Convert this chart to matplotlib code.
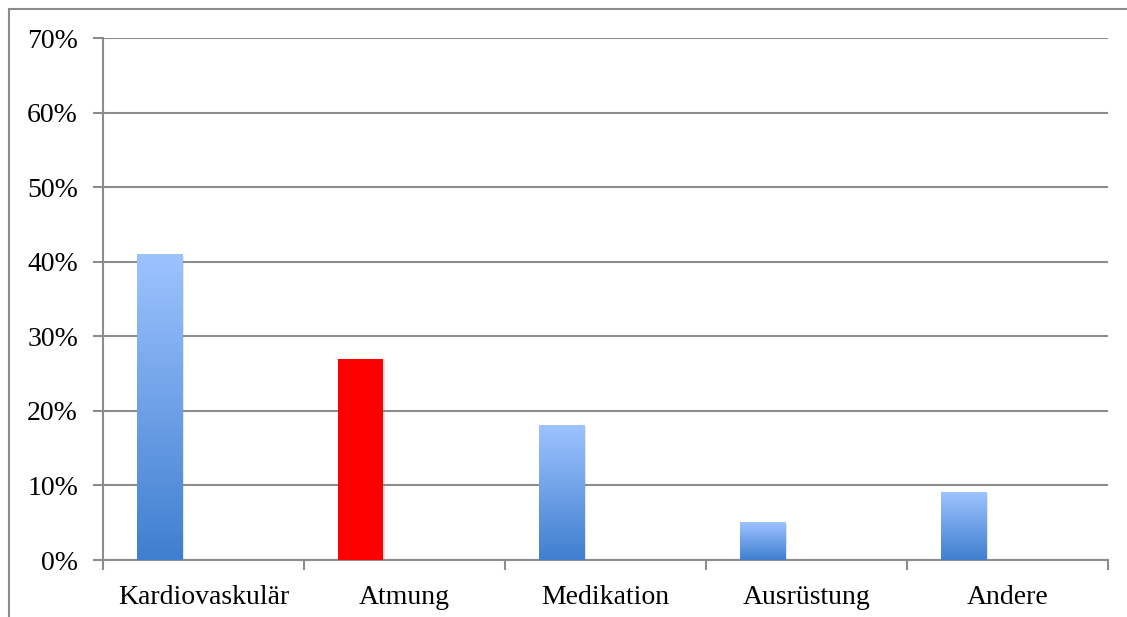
import numpy as np
import matplotlib
matplotlib.use("Agg")
import matplotlib.pyplot as plt
from matplotlib.colors import LinearSegmentedColormap
from matplotlib.lines import Line2D
import matplotlib.patheffects as pe

# chart data
categories = ["Kardiovaskulär", "Atmung", "Medikation", "Ausrüstung", "Andere"]
values = [41, 27, 18, 5, 9]
highlight = [False, True, False, False, False]
y_ticks = [0, 10, 20, 30, 40, 50, 60, 70]

plt.rcParams["font.family"] = ["Liberation Serif", "DejaVu Serif"]

fig = plt.figure(figsize=(11.27, 6.17), dpi=100)
ax = fig.add_axes([103 / 1127, 1 - 560 / 617, (1108 - 103) / 1127, (560 - 38) / 617])

grid_col = "#8c8c8c"
blue_cmap = LinearSegmentedColormap.from_list("bl", ["#3f7fcf", "#9dc3ff"])

x = np.arange(len(categories))
bar_w = 0.224
offset = -0.221
bars = ax.bar(x + offset, values, width=bar_w, color="none", zorder=3,
              edgecolor="none")

for b, hl in zip(bars, highlight):
    x0, w, h = b.get_x(), b.get_width(), b.get_height()
    # soft shadow
    shadow = plt.Rectangle((x0, 0), w, h, facecolor="white", edgecolor="none",
                           zorder=2.5,
                           path_effects=[pe.SimplePatchShadow(offset=(2, -1), alpha=0.2,
                                                             shadow_rgbFace="#808080")])
    ax.add_patch(shadow)
    if hl:
        ax.add_patch(plt.Rectangle((x0, 0), w, h, facecolor="#ff0000",
                                   edgecolor="none", zorder=3))
    else:
        grad = np.linspace(0, 1, 256).reshape(-1, 1)
        ax.imshow(grad, cmap=blue_cmap, origin="lower", aspect="auto",
                  extent=(x0, x0 + w, 0, h), zorder=3)

ax.set_xlim(-0.5, len(categories) - 0.5)
ax.set_ylim(0, 70)
ax.set_yticks(y_ticks)
ax.set_yticklabels([f"{v}%" for v in y_ticks])
ax.set_xticks(x)
ax.set_xticklabels(categories)
ax.set_xticks(np.arange(len(categories) + 1) - 0.5, minor=True)

ax.yaxis.grid(True, color=grid_col, linewidth=1.5, zorder=1)
ax.set_axisbelow(True)
for s in ["top", "right"]:
    ax.spines[s].set_visible(False)
for s in ["left", "bottom"]:
    ax.spines[s].set_color(grid_col)
    ax.spines[s].set_linewidth(1.5)

ax.tick_params(axis="y", length=7, width=1.5, color=grid_col, labelsize=20, pad=11)
ax.tick_params(axis="x", which="major", length=0, labelsize=20, pad=18)
ax.tick_params(axis="x", which="minor", length=7, width=1.5, color=grid_col)

# outer frame (partially cropped)
fx, fy = 9 / 1127, 1 - 9 / 617
fig.add_artist(Line2D([fx, 1.0], [fy, fy], color=grid_col, linewidth=1.5))
fig.add_artist(Line2D([fx, fx], [0, fy], color=grid_col, linewidth=1.5))

fig.savefig("out.png", dpi=100)
